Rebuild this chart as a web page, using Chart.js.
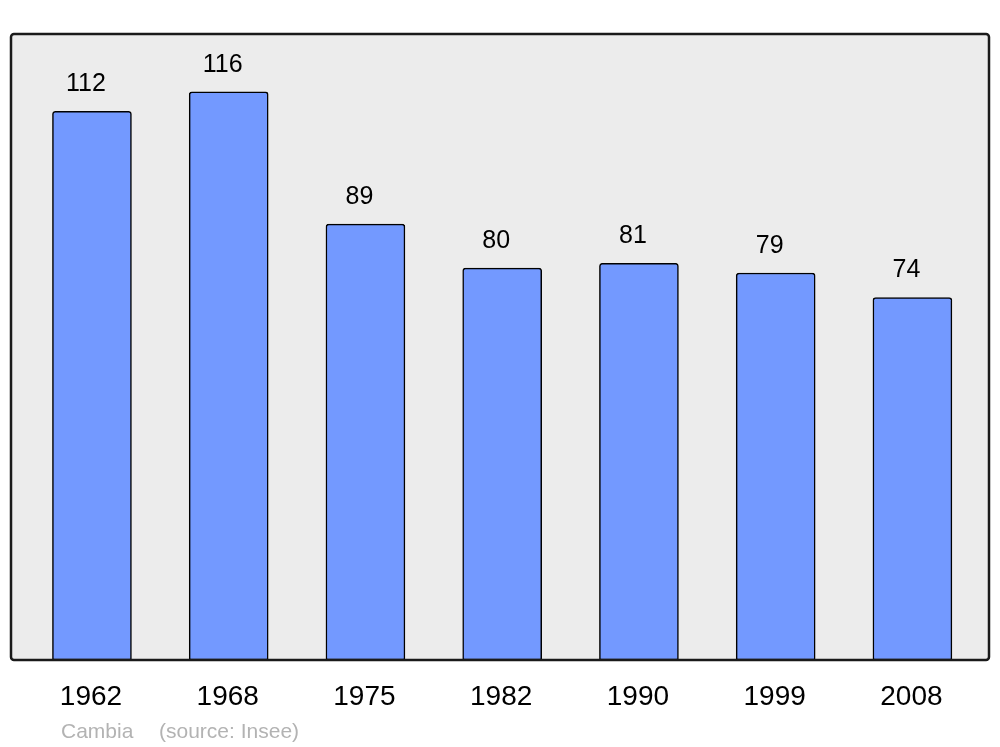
<!DOCTYPE html>
<html>
<head>
<meta charset="utf-8">
<script src="https://cdn.jsdelivr.net/npm/chart.js@4.4.1/dist/chart.umd.min.js"></script>
<style>
  body { margin: 0; background: #ffffff; }
  #wrap { width: 1000px; height: 747px; }
</style>
</head>
<body>
<div id="wrap"><canvas id="popChart" width="1000" height="747"></canvas></div>
<script>
// Years shown under the bars
const years = ['1962', '1968', '1975', '1982', '1990', '1999', '2008'];

// Population for each year
const population = [112, 116, 89, 80, 81, 79, 74];

// Footer text
const placeName = 'Cambia';
const sourceText = '(source: Insee)';

// Points for the linear x scale (index -> value)
const points = population.map((v, i) => ({ x: i, y: v }));

// Plugin to draw the grey panel, frame, labels and footer
const panelPlugin = {
    id: 'panel',
    beforeDraw(chart) {
        const { ctx, chartArea } = chart;
        ctx.save();
        ctx.fillStyle = '#ececec';
        ctx.beginPath();
        ctx.roundRect(chartArea.left, chartArea.top, chartArea.right - chartArea.left, chartArea.bottom - chartArea.top, 3);
        ctx.fill();
        ctx.restore();
    },
    afterDatasetsDraw(chart) {
        const { ctx, chartArea, scales } = chart;
        ctx.save();

        // frame around the plot
        ctx.strokeStyle = '#1a1a1a';
        ctx.lineWidth = 2.5;
        ctx.beginPath();
        ctx.roundRect(chartArea.left, chartArea.top, chartArea.right - chartArea.left, chartArea.bottom - chartArea.top, 3);
        ctx.stroke();

        // value labels above each bar
        ctx.fillStyle = '#000000';
        ctx.textAlign = 'center';
        ctx.textBaseline = 'middle';
        ctx.font = '25px "Liberation Sans", Arial, sans-serif';
        population.forEach((v, i) => {
            const x = scales.x.getPixelForValue(i) - 6;
            const y = scales.y.getPixelForValue(v) - 27;
            ctx.fillText(String(v), x, y);
        });

        // year labels under the bars
        ctx.font = '28px "Liberation Sans", Arial, sans-serif';
        years.forEach((yr, i) => {
            ctx.fillText(yr, scales.x.getPixelForValue(i) - 1, chartArea.bottom + 37);
        });

        // footer
        ctx.fillStyle = '#b3b3b3';
        ctx.textAlign = 'left';
        ctx.font = '21px "Liberation Sans", Arial, sans-serif';
        ctx.fillText(placeName, 61, chartArea.bottom + 72);
        ctx.fillText(sourceText, 159, chartArea.bottom + 72);
        ctx.restore();
    }
};

const ctx = document.getElementById('popChart').getContext('2d');
const popChart = new Chart(ctx, {
    type: 'bar',
    data: {
        datasets: [
            {
                data: points,
                backgroundColor: '#7399ff',
                borderColor: '#000000',
                borderWidth: 1.5,
                borderRadius: { topLeft: 3, topRight: 3 },
                borderSkipped: false,
                barThickness: 79,
            },
        ]
    },
    options: {
        responsive: false,
        animation: false,
        layout: {
            padding: { left: 11, right: 11, top: 34, bottom: 87 }
        },
        plugins: {
            legend: { display: false },
            tooltip: { enabled: false }
        },
        scales: {
            x: {
                type: 'linear',
                offset: false,
                min: -0.592,
                max: 6.56,
                display: false
            },
            y: {
                min: 0,
                max: 127.8,
                display: false
            }
        }
    },
    plugins: [panelPlugin]
});
</script>
</body>
</html>
